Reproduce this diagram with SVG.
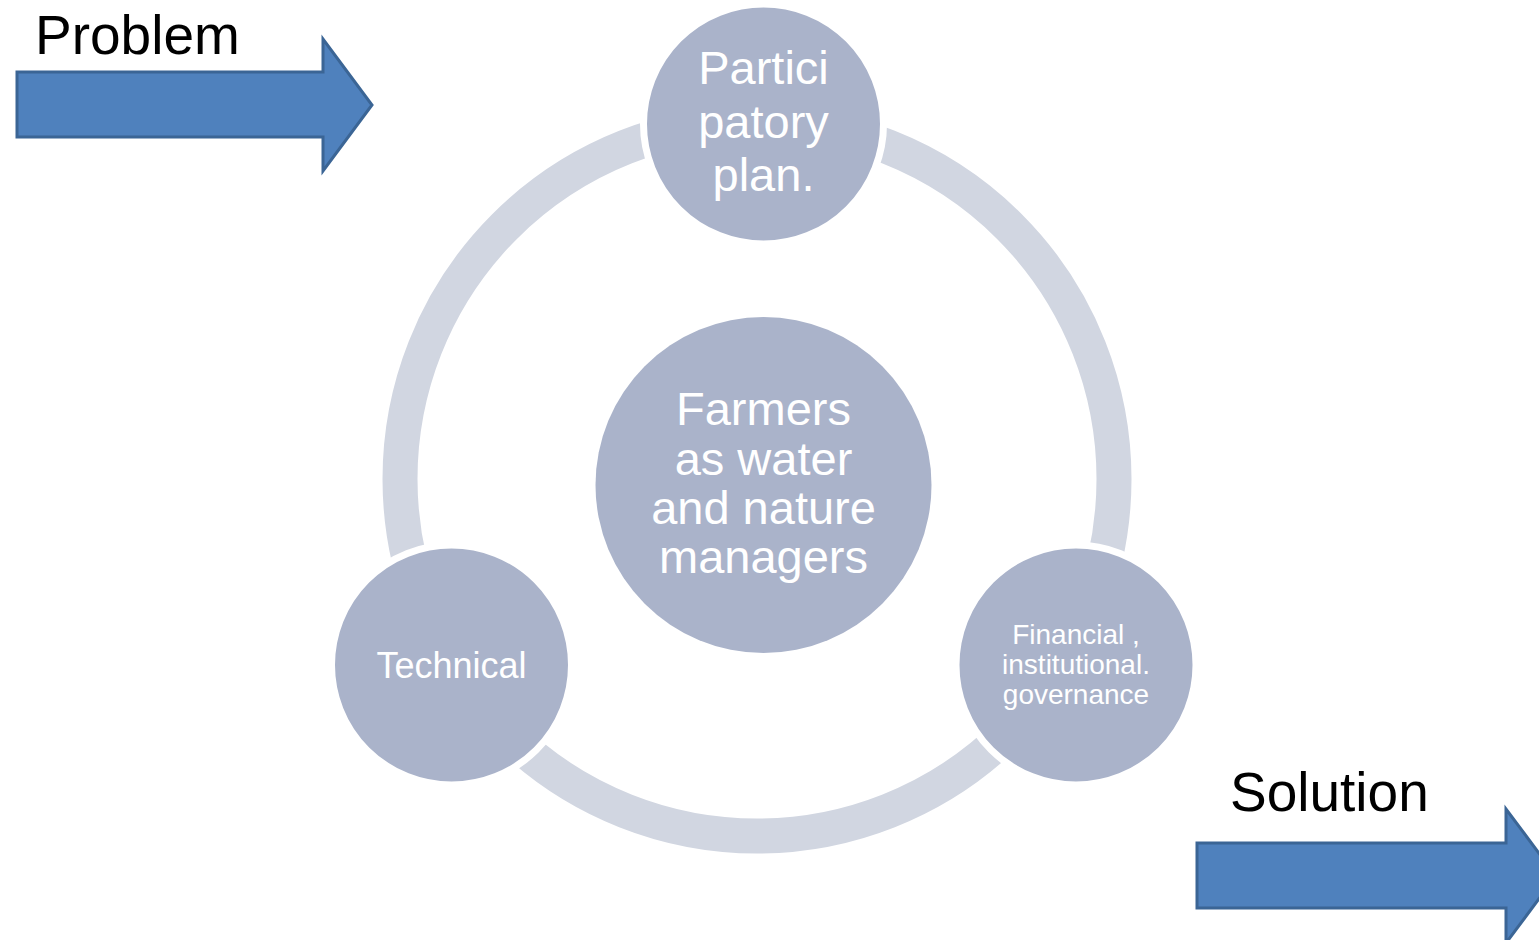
<svg xmlns="http://www.w3.org/2000/svg" width="1539" height="940" viewBox="0 0 1539 940">
<style>
.arrow{fill:#4F81BD;stroke:#3B6595;stroke-width:3;stroke-linejoin:miter}
.node{fill:#AAB3CA;stroke:#FFFFFF;stroke-width:7}
.center{fill:#AAB3CA}
.t{font-family:"Liberation Sans",Arial,sans-serif;fill:#FFFFFF;text-anchor:middle}
.lbl{font-family:"Liberation Sans",Arial,sans-serif;fill:#000000;font-size:55px}
</style>
<rect width="1539" height="940" fill="#FFFFFF"/>
<g id="connectors">
<ellipse cx="757" cy="479" rx="357" ry="357" fill="none" stroke="#D1D6E1" stroke-width="35"/>
</g>
<g id="problem">
<text class="lbl" x="35" y="54">Problem</text>
<path class="arrow" d="M17,72 L323,72 L323,39 L372,105 L323,171 L323,137 L17,137 Z"/>
</g>
<g id="solution">
<text class="lbl" x="1230" y="811">Solution</text>
<path class="arrow" d="M1197,843 L1506,843 L1506,809 L1556,876 L1506,943 L1506,908 L1197,908 Z"/>
</g>
<g id="node-center">
<circle class="center" cx="763.5" cy="485" r="168"/>
<text class="t" font-size="47" x="763.5" y="425">Farmers</text>
<text class="t" font-size="47" x="763.5" y="475">as water</text>
<text class="t" font-size="47" x="763.5" y="524">and nature</text>
<text class="t" font-size="47" x="763.5" y="573">managers</text>
</g>
<g id="node-participatory">
<circle class="node" cx="763.5" cy="124" r="120"/>
<text class="t" font-size="47" x="763.5" y="84">Partici</text>
<text class="t" font-size="47" x="763.5" y="138">patory</text>
<text class="t" font-size="47" x="763.5" y="191">plan.</text>
</g>
<g id="node-technical">
<circle class="node" cx="451.5" cy="665" r="120"/>
<text class="t" font-size="36" x="451.5" y="678">Technical</text>
</g>
<g id="node-financial">
<circle class="node" cx="1076" cy="665" r="120"/>
<text class="t" font-size="28" x="1076" y="644">Financial ,</text>
<text class="t" font-size="28" x="1076" y="674">institutional.</text>
<text class="t" font-size="28" x="1076" y="704">governance</text>
</g>
</svg>
